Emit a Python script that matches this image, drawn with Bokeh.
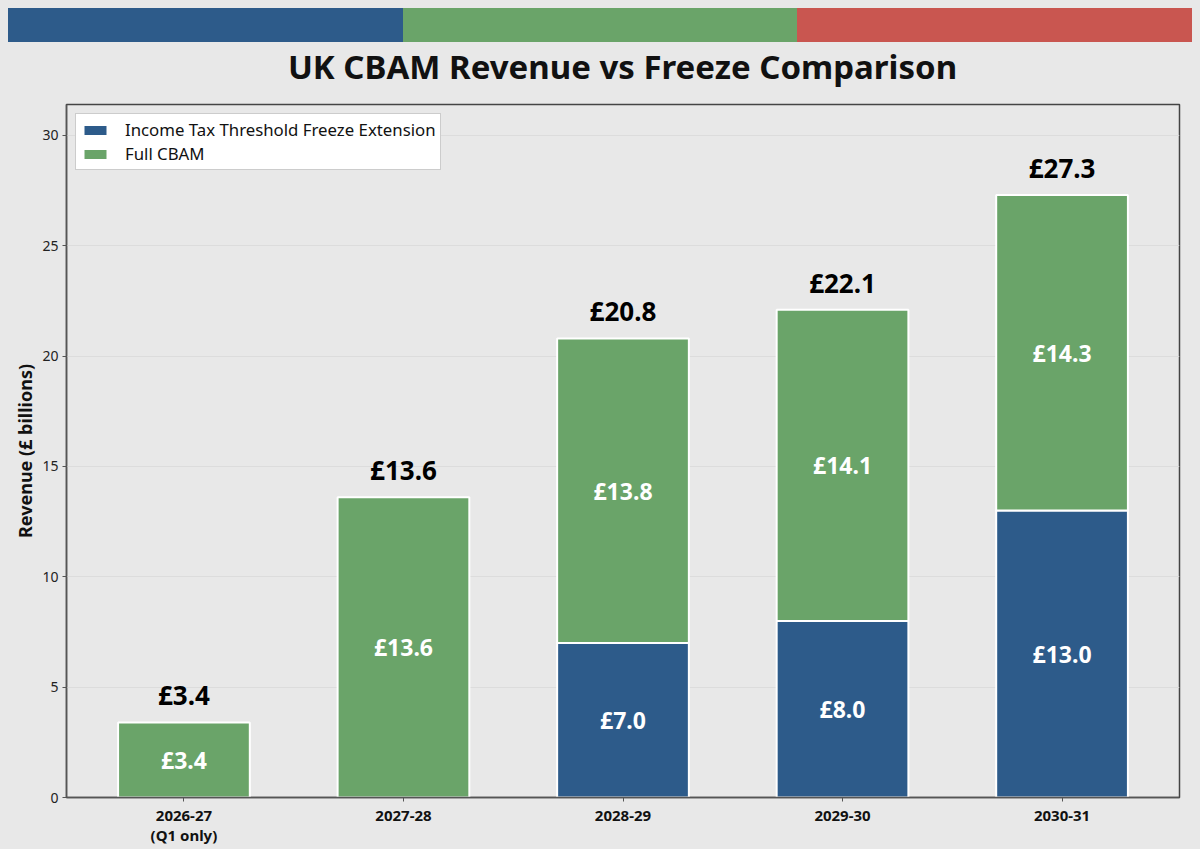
from bokeh.plotting import figure
from bokeh.models import ColumnDataSource, FixedTicker, Range1d, Legend, LegendItem, Div
from bokeh.layouts import column
from bokeh.core.properties import value
from bokeh.embed import file_html
from bokeh.resources import INLINE

BG = "#e8e8e8"
FONT = "Noto Sans"
BLUE = "#2d5b8a"
GREEN = "#6aa469"
RED = "#c95650"
STRIP_COLORS = [BLUE, GREEN, RED]
TITLE = "UK CBAM Revenue vs Freeze Comparison"

years = ["2026-27\n(Q1 only)", "2027-28", "2028-29", "2029-30", "2030-31"]
freeze = [0.0, 0.0, 7.0, 8.0, 13.0]
cbam = [3.4, 13.6, 13.8, 14.1, 14.3]

x = list(range(len(years)))
totals = [f + c for f, c in zip(freeze, cbam)]

# colour strip across the top
strip_html = '<div style="display:flex;width:1184px;height:34px;">' + "".join(
    f'<div style="flex:1;background:{c};"></div>' for c in STRIP_COLORS) + "</div>"
strip = Div(text=strip_html, width=1184, height=34, margin=(8, 8, 0, 8))

# title centred over the plot frame (frame sits 58px from the left, 13px from the right)
title_html = (f'<div style="font-family:\'{FONT}\';font-weight:bold;font-size:33px;line-height:40px;'
              f'box-sizing:border-box;padding-top:5px;padding-left:58px;padding-right:13px;width:1184px;'
              f'text-align:center;color:#111111;">{TITLE}</div>')
title_div = Div(text=title_html, width=1184, height=46, margin=(0, 8, 0, 8))

p = figure(width=1184, height=759, x_range=Range1d(-0.535, 4.535), y_range=Range1d(0, 31.4),
           toolbar_location=None, output_backend="svg",
           min_border_left=58, min_border_right=13, min_border_top=16, min_border_bottom=45,
           margin=(0, 8, 0, 8))
p.background_fill_color = BG
p.border_fill_color = BG
p.outline_line_color = "#444444"
p.outline_line_width = 1.5

src = ColumnDataSource(data=dict(x=x, freeze=freeze, cbam=cbam, total=totals))
r1 = p.vbar(x='x', top='freeze', bottom=0, width=0.6, source=src,
            fill_color=BLUE, line_color="white", line_width=2)
r2 = p.vbar(x='x', top='total', bottom='freeze', width=0.6, source=src,
            fill_color=GREEN, line_color="white", line_width=2)

# labels inside segments
seg_x, seg_y, seg_t = [], [], []
for i in x:
    if freeze[i] > 0:
        seg_x.append(i); seg_y.append(freeze[i] / 2); seg_t.append(f"£{freeze[i]:.1f}")
    if cbam[i] > 0:
        seg_x.append(i); seg_y.append(freeze[i] + cbam[i] / 2); seg_t.append(f"£{cbam[i]:.1f}")
p.text(x=seg_x, y=seg_y, text=seg_t, text_color="white", text_font=value(FONT),
       text_font_style="bold", text_font_size="23px", text_align="center", text_baseline="middle")

# totals above the bars
p.text(x=x, y=totals, text=[f"£{t:.1f}" for t in totals], text_color="black", text_font=value(FONT),
       text_font_style="bold", text_font_size="26px", text_align="center", text_baseline="bottom",
       y_offset=-9)

p.xaxis.ticker = FixedTicker(ticks=x)
p.xaxis.major_label_overrides = {i: lab for i, lab in zip(x, years)}
p.xaxis.major_label_text_font = FONT
p.xaxis.major_label_text_font_style = "bold"
p.xaxis.major_label_text_font_size = "15px"
p.xaxis.major_label_text_color = "#111111"
p.xaxis.major_label_text_line_height = 1.0
p.xaxis.major_label_standoff = 3
p.xaxis.minor_tick_line_color = None

p.yaxis.ticker = FixedTicker(ticks=[0, 5, 10, 15, 20, 25, 30])
p.yaxis.major_label_text_font = FONT
p.yaxis.major_label_text_font_size = "14px"
p.yaxis.major_label_text_color = "#222222"
p.yaxis.major_label_standoff = 4
p.yaxis.axis_label = "Revenue (£ billions)"
p.yaxis.axis_label_text_font = FONT
p.yaxis.axis_label_text_font_size = "18px"
p.yaxis.axis_label_text_font_style = "bold"
p.yaxis.axis_label_text_color = "#111111"
p.yaxis.axis_label_standoff = 2

for ax in (p.xaxis, p.yaxis):
    ax.axis_line_color = "#555555"
    ax.axis_line_width = 1.5
    ax.major_tick_line_color = "#555555"
    ax.major_tick_in = 0
    ax.major_tick_out = 4

p.xgrid.grid_line_color = None
p.ygrid.grid_line_color = "#dcdcdc"
p.ygrid.grid_line_width = 1

legend = Legend(items=[LegendItem(label="Income Tax Threshold Freeze Extension", renderers=[r1]),
                       LegendItem(label="Full CBAM", renderers=[r2])],
                location="top_left")
legend.label_text_font = FONT
legend.label_text_font_size = "16.8px"
legend.label_text_color = "#111111"
legend.label_height = 20
legend.label_standoff = 15
legend.background_fill_color = "white"
legend.background_fill_alpha = 1
legend.border_line_color = "#999999"
legend.border_line_width = 1
legend.glyph_width = 30
legend.glyph_height = 14
legend.spacing = 1
legend.padding = 4
legend.margin = 9
p.add_layout(legend)

layout = column(strip, title_div, p, spacing=0)
layout.styles = {"background-color": BG}

html = file_html(layout, INLINE, title=TITLE)
html = html.replace("<body>", '<body style="background-color:#e8e8e8;">')
open("out.html", "w").write(html)
